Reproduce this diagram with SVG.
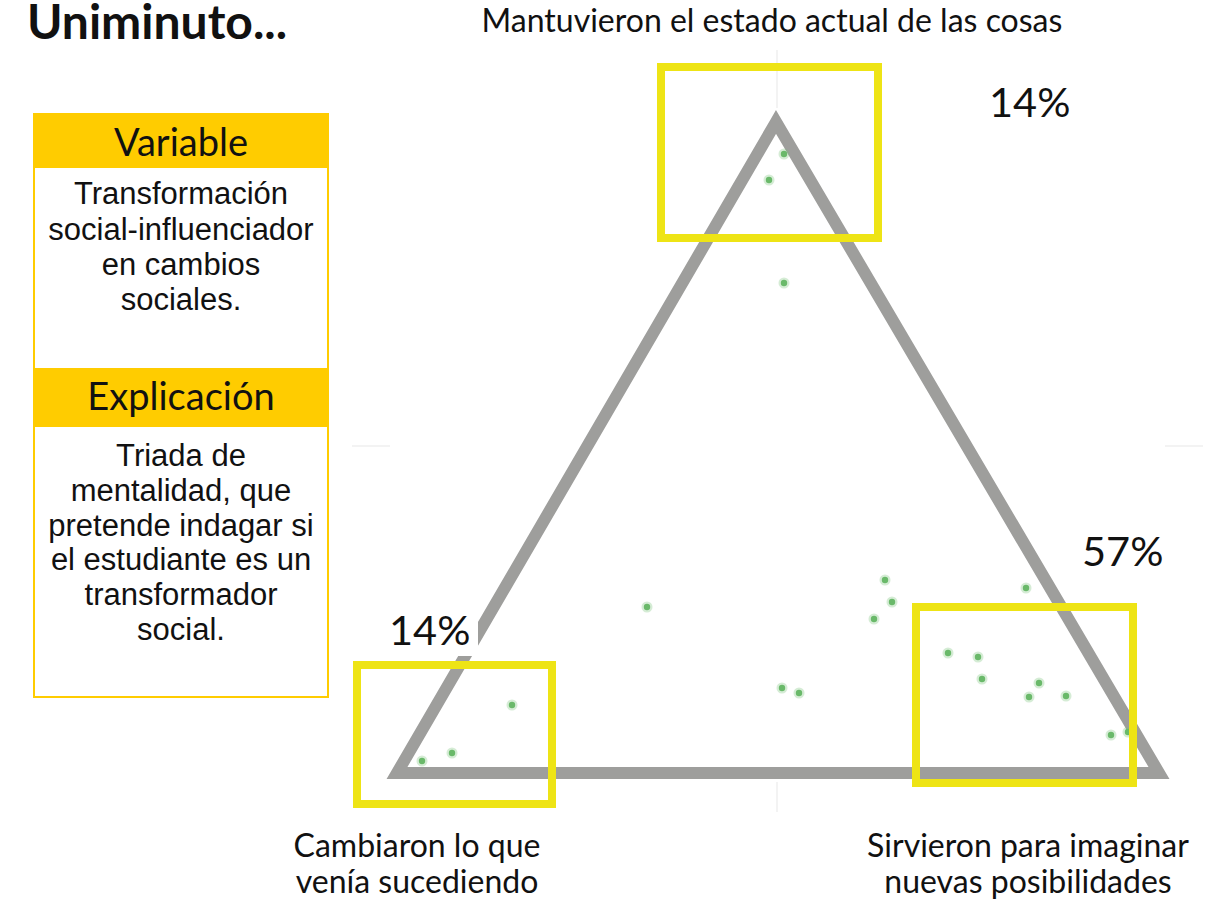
<svg xmlns="http://www.w3.org/2000/svg" width="1221" height="900" viewBox="0 0 1221 900">
<defs>
<style>
.lato{font-family:Lato,"Liberation Sans",sans-serif;fill:#111}
.body{font-family:"Liberation Sans",Arial,sans-serif;font-size:31px;fill:#111;text-anchor:middle}
.hdr{font-family:Lato,"Liberation Sans",sans-serif;font-size:38px;fill:#111;text-anchor:middle}
.lbl{font-family:Lato,"Liberation Sans",sans-serif;font-size:32px;fill:#111;text-anchor:middle}
.pct{font-family:Lato,"Liberation Sans",sans-serif;font-size:41.5px;fill:#111}
.hl{fill:none;stroke:#EEE415;stroke-width:8}
.grid{stroke:#F3F3F3;stroke-width:2}
.dh{fill:#74C174;opacity:0.3}
.dc{fill:#6AB96A}
</style>
<g id="dot"><circle r="5.5" class="dh"/><circle r="3.2" class="dc"/></g>
</defs>
<rect width="1221" height="900" fill="#fff"/>
<g id="title"><text x="27" y="39" class="lato" font-size="48" font-weight="bold">Uniminuto...</text></g>
<g id="infobox">
<rect x="34" y="114" width="294" height="583" fill="#fff" stroke="#FFCC00" stroke-width="2"/>
<rect x="33" y="113" width="296" height="55" fill="#FFCC00"/>
<rect x="33" y="368" width="296" height="59" fill="#FFCC00"/>
<text x="181" y="156" class="hdr">Variable</text>
<text x="181" y="204" class="body">Transformación</text>
<text x="181" y="240" class="body">social-influenciador</text>
<text x="181" y="275" class="body">en cambios</text>
<text x="181" y="310" class="body">sociales.</text>
<text x="181" y="410" class="hdr">Explicación</text>
<text x="181" y="466" class="body">Triada de</text>
<text x="181" y="501" class="body">mentalidad, que</text>
<text x="181" y="536" class="body">pretende indagar si</text>
<text x="181" y="570" class="body">el estudiante es un</text>
<text x="181" y="605" class="body">transformador</text>
<text x="181" y="640" class="body">social.</text>
</g>
<g id="grid">
<line x1="352" y1="446" x2="390" y2="446" class="grid"/>
<line x1="1165" y1="446" x2="1203" y2="446" class="grid"/>
<line x1="777" y1="50" x2="777" y2="108" class="grid"/>
<line x1="777" y1="782" x2="777" y2="812" class="grid"/>
</g>
<g id="connectors">
<polygon points="776,122 397,773 1159,773" fill="none" stroke="#9E9E9C" stroke-width="12" stroke-linejoin="miter" stroke-miterlimit="10"/>
</g>
<g id="points">
<use href="#dot" x="784" y="154"/><use href="#dot" x="769" y="180"/><use href="#dot" x="784" y="283"/>
<use href="#dot" x="647" y="607"/><use href="#dot" x="885" y="580"/><use href="#dot" x="892" y="602"/><use href="#dot" x="874" y="619"/>
<use href="#dot" x="782" y="688"/><use href="#dot" x="799" y="693"/>
<use href="#dot" x="1026" y="588"/><use href="#dot" x="948" y="653"/><use href="#dot" x="978" y="657"/><use href="#dot" x="982" y="679"/>
<use href="#dot" x="1039" y="683"/><use href="#dot" x="1029" y="697"/><use href="#dot" x="1066" y="696"/><use href="#dot" x="1111" y="735"/><use href="#dot" x="1128" y="732"/>
<use href="#dot" x="512" y="705"/><use href="#dot" x="452" y="753"/><use href="#dot" x="422" y="761"/>
</g>
<g id="zone-top"><rect x="661" y="67" width="217" height="171" class="hl"/></g>
<g id="zone-left"><rect x="357" y="665" width="195" height="139" class="hl"/></g>
<g id="zone-right"><rect x="916" y="607" width="217" height="176" class="hl"/></g>
<g id="pct-top"><text x="989" y="117" class="pct">14%</text></g>
<g id="pct-right"><text x="1082" y="566" class="pct">57%</text></g>
<g id="pct-left"><rect x="386" y="610" width="92" height="46" fill="#fff"/><text x="389" y="645" class="pct">14%</text></g>
<g id="label-top"><text x="772" y="32" class="lbl">Mantuvieron el estado actual de las cosas</text></g>
<g id="label-left"><text x="417" y="857" class="lbl">Cambiaron lo que</text><text x="417" y="893" class="lbl">venía sucediendo</text></g>
<g id="label-right"><text x="1028" y="857" class="lbl">Sirvieron para imaginar</text><text x="1028" y="893" class="lbl">nuevas posibilidades</text></g>
</svg>
